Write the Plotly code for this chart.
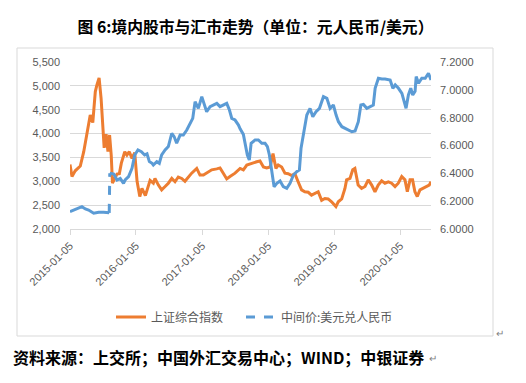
import plotly.graph_objects as go

# ---------------- data ----------------
sh_dates = [
    "2015-01-05", "2015-01-16", "2015-02-03", "2015-03-03", "2015-03-22", "2015-04-09",
    "2015-04-27", "2015-05-11", "2015-05-25", "2015-06-03", "2015-06-15", "2015-06-26",
    "2015-07-04", "2015-07-13", "2015-07-24", "2015-08-03", "2015-08-12", "2015-08-21",
    "2015-08-28", "2015-09-08", "2015-09-22", "2015-10-05", "2015-10-16", "2015-11-04",
    "2015-11-16", "2015-11-29", "2015-12-14", "2015-12-29", "2016-01-11", "2016-01-26",
    "2016-02-07", "2016-02-26", "2016-03-12", "2016-03-23", "2016-04-10", "2016-04-19",
    "2016-05-08", "2016-05-26", "2016-06-14", "2016-07-02", "2016-07-21", "2016-08-08",
    "2016-08-26", "2016-09-14", "2016-10-02", "2016-10-21", "2016-11-08", "2016-12-06",
    "2016-12-24", "2017-01-12", "2017-02-03", "2017-02-27", "2017-03-27", "2017-04-14",
    "2017-05-02", "2017-05-21", "2017-06-08", "2017-07-06", "2017-08-03", "2017-08-21",
    "2017-09-09", "2017-10-06", "2017-11-03", "2017-11-21", "2017-12-10", "2017-12-28",
    "2018-01-16", "2018-02-01", "2018-02-17", "2018-03-02", "2018-03-21", "2018-04-08",
    "2018-04-26", "2018-05-15", "2018-06-02", "2018-06-20", "2018-07-09", "2018-07-27",
    "2018-08-15", "2018-09-02", "2018-09-21", "2018-10-09", "2018-10-28", "2018-11-15",
    "2018-12-03", "2018-12-22", "2019-01-15", "2019-01-28", "2019-02-16", "2019-03-06",
    "2019-03-15", "2019-04-03", "2019-04-18", "2019-04-30", "2019-05-18", "2019-06-06",
    "2019-06-25", "2019-07-13", "2019-08-01", "2019-08-19", "2019-09-06", "2019-09-25",
    "2019-10-13", "2019-11-01", "2019-11-19", "2019-12-08", "2019-12-26", "2020-01-14",
    "2020-02-01", "2020-02-14", "2020-02-29", "2020-03-14", "2020-03-27", "2020-04-09",
    "2020-04-24", "2020-05-12", "2020-05-31", "2020-06-14", "2020-06-24",
]
sh_values = [
    3350, 3100, 3220, 3320, 3620, 3970,
    4390, 4230, 4880, 5020, 5166, 4740,
    4250, 3700, 3990, 3620, 3970, 3550,
    2960, 3060, 3150, 3160, 3380, 3620,
    3550, 3620, 3480, 3600, 3000, 2680,
    2850, 2700, 2920, 3020, 2960, 3060,
    2920, 2820, 2890, 2960, 3060, 2990,
    3090, 3060, 3000, 3090, 3170, 3270,
    3130, 3130, 3190, 3240, 3260, 3280,
    3170, 3050, 3100, 3170, 3270, 3240,
    3340, 3380, 3410, 3425, 3300, 3280,
    3300, 3580, 3270, 3340, 3300, 3170,
    3160, 3120, 3160, 2990, 2820, 2780,
    2770, 2710, 2750, 2780, 2600, 2640,
    2630, 2570, 2470, 2570, 2630, 2850,
    3030, 3060, 3240, 3270, 2920, 2850,
    2890, 3030, 2920, 2780, 2920, 3010,
    2960, 2990, 2960, 2890, 2960, 3100,
    3030, 2780, 3030, 3030, 2780, 2680,
    2820, 2850, 2890, 2920, 2990,
]

fx_dates = [
    "2015-01-05", "2015-01-25", "2015-02-13", "2015-03-12", "2015-03-31", "2015-04-18",
    "2015-05-16", "2015-06-13", "2015-07-10", "2015-08-07", "2015-08-10", "2015-08-11",
    "2015-08-12", "2015-08-13", "2015-09-04", "2015-09-22", "2015-10-10", "2015-10-28",
    "2015-11-06", "2015-11-25", "2015-12-14", "2015-12-29", "2016-01-16", "2016-02-04",
    "2016-02-22", "2016-03-06", "2016-03-19", "2016-04-03", "2016-04-10", "2016-04-29",
    "2016-05-13", "2016-05-26", "2016-06-14", "2016-07-02", "2016-07-21", "2016-08-03",
    "2016-08-17", "2016-09-05", "2016-09-23", "2016-10-12", "2016-10-30", "2016-11-14",
    "2016-11-27", "2016-12-15", "2017-01-03", "2017-01-16", "2017-01-30", "2017-02-18",
    "2017-03-08", "2017-03-27", "2017-04-14", "2017-05-02", "2017-05-21", "2017-06-05",
    "2017-06-18", "2017-07-06", "2017-07-25", "2017-08-03", "2017-08-21", "2017-09-12",
    "2017-09-23", "2017-10-03", "2017-10-25", "2017-11-12", "2017-12-01", "2017-12-19",
    "2018-01-01", "2018-01-12", "2018-01-25", "2018-02-07", "2018-02-22", "2018-03-12",
    "2018-03-30", "2018-04-18", "2018-05-06", "2018-05-25", "2018-06-12", "2018-06-27",
    "2018-07-06", "2018-07-16", "2018-07-28", "2018-08-07", "2018-08-25", "2018-09-09",
    "2018-09-27", "2018-10-16", "2018-11-07", "2018-11-26", "2018-12-14", "2019-01-01",
    "2019-01-16", "2019-01-29", "2019-02-17", "2019-03-07", "2019-03-25", "2019-04-13",
    "2019-05-01", "2019-05-19", "2019-06-02", "2019-06-16", "2019-07-05", "2019-07-23",
    "2019-08-10", "2019-08-20", "2019-09-07", "2019-09-26", "2019-10-14", "2019-11-11",
    "2019-11-26", "2019-12-09", "2019-12-27", "2020-01-15", "2020-01-27", "2020-02-07",
    "2020-02-20", "2020-03-04", "2020-03-15", "2020-03-28", "2020-04-03", "2020-04-16",
    "2020-05-04", "2020-05-23", "2020-06-10", "2020-06-17", "2020-06-24",
]
fx_values = [
    6.124, 6.136, 6.144, 6.160, 6.144, 6.136,
    6.113, 6.120, 6.120, 6.118, 6.116, 6.230,
    6.331, 6.401, 6.395, 6.352, 6.364, 6.328,
    6.352, 6.376, 6.436, 6.532, 6.568, 6.556,
    6.532, 6.540, 6.484, 6.472, 6.460, 6.484,
    6.472, 6.532, 6.568, 6.592, 6.688, 6.664,
    6.616, 6.675, 6.675, 6.711, 6.759, 6.795,
    6.915, 6.867, 6.951, 6.903, 6.843, 6.879,
    6.891, 6.903, 6.879, 6.891, 6.903, 6.855,
    6.795, 6.783, 6.747, 6.720, 6.680, 6.532,
    6.496, 6.616, 6.640, 6.640, 6.616, 6.616,
    6.592, 6.532, 6.424, 6.304, 6.328, 6.345,
    6.304, 6.292, 6.328, 6.388, 6.412, 6.424,
    6.580, 6.652, 6.759, 6.819, 6.867, 6.807,
    6.843, 6.867, 6.951, 6.939, 6.867, 6.891,
    6.819, 6.771, 6.735, 6.723, 6.711, 6.699,
    6.705, 6.771, 6.891, 6.895, 6.867, 6.879,
    6.891, 7.011, 7.083, 7.078, 7.078, 7.071,
    7.011, 7.035, 7.011, 6.975, 6.927, 6.867,
    6.963, 7.011, 6.963, 6.990, 7.095, 7.047,
    7.083, 7.083, 7.119, 7.095, 7.071,
]
# first and last day of the Aug-2015 fixing reform jump (drawn dashed)
jump_start = "2015-08-10"
jump_end = "2015-08-13"

x_tick_labels = ["2015-01-05", "2016-01-05", "2017-01-05", "2018-01-05", "2019-01-05", "2020-01-05"]

sh_name = "上证综合指数"
fx_name = "中间价:美元兑人民币"
title_text = "图 6:境内股市与汇市走势（单位：元人民币/美元）"
source_text = "资料来源：上交所；中国外汇交易中心；WIND；中银证券"

# ---------------- layout helpers (pixel -> paper) ----------------
W, H = 526, 383
PL, PR, PT, PB = 70, 431, 62, 229


def px(x):
    return (x - PL) / (PR - PL)


def py(y):
    return (PB - y) / (PB - PT)


ORANGE = "#ED7D31"
BLUE = "#5B9BD5"
GRID = "#D9D9D9"
TXT = "#595959"
FONT = "Liberation Sans, Noto Sans CJK SC, sans-serif"
CJK = "Noto Sans CJK SC, sans-serif"

i0 = fx_dates.index(jump_start)
i1 = fx_dates.index(jump_end)

fig = go.Figure()
fig.add_trace(go.Scatter(x=sh_dates, y=sh_values, mode="lines", name=sh_name,
                         line=dict(color=ORANGE, width=3), yaxis="y", legend="legend"))
fig.add_trace(go.Scatter(x=fx_dates[:i0 + 1], y=fx_values[:i0 + 1], mode="lines",
                         showlegend=False, line=dict(color=BLUE, width=3), yaxis="y2"))
fig.add_trace(go.Scatter(x=fx_dates[i0:i1 + 1], y=fx_values[i0:i1 + 1], mode="lines",
                         showlegend=False, line=dict(color=BLUE, width=3, dash="dash"), yaxis="y2"))
fig.add_trace(go.Scatter(x=fx_dates[i1:], y=fx_values[i1:], mode="lines",
                         showlegend=False, line=dict(color=BLUE, width=3), yaxis="y2"))
fig.add_trace(go.Scatter(x=[None], y=[None], mode="lines", name=fx_name,
                         line=dict(color=BLUE, width=3, dash="dash"), yaxis="y2",
                         legend="legend2"))

legend_common = dict(orientation="h", xanchor="left", y=py(317), yanchor="middle",
                     font=dict(family=CJK, size=12, color=TXT),
                     bgcolor="rgba(0,0,0,0)", itemwidth=30)

fig.update_layout(
    width=W, height=H,
    margin=dict(l=PL, r=W - PR, t=PT, b=H - PB, pad=0, autoexpand=False),
    paper_bgcolor="white", plot_bgcolor="white",
    font=dict(family=FONT, size=11, color=TXT),
    title=dict(text="<b>" + title_text + "</b>", x=255.5 / W, xanchor="center",
               y=1 - 27 / H, yanchor="middle",
               font=dict(family=CJK, size=15.8, color="#000000")),
    xaxis=dict(type="date", range=[sh_dates[0], sh_dates[-1]], automargin=False,
               tickvals=x_tick_labels, ticktext=x_tick_labels, tickangle=-45,
               ticks="outside", ticklen=5, tickcolor=GRID, showline=True, linecolor=GRID,
               linewidth=1, showgrid=False, zeroline=False,
               tickfont=dict(family=FONT, size=11, color=TXT)),
    yaxis=dict(range=[2000, 5500], dtick=500, tickformat=",", showgrid=True, automargin=False,
               gridcolor=GRID, gridwidth=1, zeroline=False, showline=False,
               ticks="", ticklabelstandoff=9,
               tickfont=dict(family=FONT, size=11, color=TXT)),
    yaxis2=dict(range=[6.0, 7.2], dtick=0.2, tickformat=".4f", overlaying="y", automargin=False,
                side="right", showgrid=False, zeroline=False, showline=False,
                ticks="", ticklabelstandoff=8,
                tickfont=dict(family=FONT, size=11, color=TXT)),
    legend=dict(x=px(111), **legend_common),
    legend2=dict(x=px(241), **legend_common),
    shapes=[dict(type="rect", xref="paper", yref="paper",
                 x0=px(17), x1=px(493), y0=py(336), y1=py(48),
                 line=dict(color=GRID, width=1), fillcolor="rgba(0,0,0,0)", layer="below")],
    annotations=[
        dict(text="<b>" + source_text + "</b>", xref="paper", yref="paper",
             x=px(11), y=py(357), xanchor="left", yanchor="middle", showarrow=False,
             font=dict(family=CJK, size=16, color="#000000")),
        dict(text="↵", xref="paper", yref="paper", x=px(427), y=py(358),
             xanchor="left", yanchor="middle", showarrow=False,
             font=dict(family=FONT, size=10, color="#7F7F7F")),
        dict(text="↵", xref="paper", yref="paper", x=px(494), y=py(333),
             xanchor="left", yanchor="middle", showarrow=False,
             font=dict(family=FONT, size=10, color="#7F7F7F")),
    ],
)

fig.write_html("out.html", config={"displayModeBar": False},
               post_script="document.body.style.margin='0';document.body.style.overflow='hidden';")
